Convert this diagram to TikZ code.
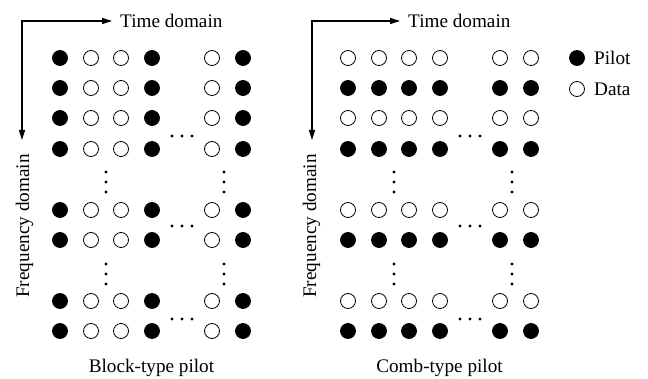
\documentclass[tikz,border=0pt]{standalone}
\usepackage{fontspec}
\setmainfont{Liberation Serif}
\usetikzlibrary{arrows.meta}
\begin{document}
\begin{tikzpicture}[x=1pt,y=-1pt,
  pilot/.style={circle,fill=black,draw=black,line width=0.8pt,minimum size=15pt,inner sep=0pt},
  datasym/.style={circle,fill=white,draw=black,line width=0.8pt,minimum size=15pt,inner sep=0pt},
  ell/.style={circle,fill=black,minimum size=3.2pt,inner sep=0pt},
  axis/.style={line width=1.1pt,{Triangle[length=10pt,width=6pt]}-{Triangle[length=10pt,width=6pt]}},
  lbl/.style={font=\fontsize{19.2}{23}\selectfont,inner sep=0pt}
]
\useasboundingbox (0,0) rectangle (648,379);

% ---- Block-type grid
\foreach \r/\y in {1/58,2/88,3/118,4/149,5/210,6/240,7/301,8/331}{
  \foreach \c/\x/\t in {1/60/pilot,2/91/datasym,3/121/datasym,4/152/pilot,5/212/datasym,6/243/pilot}{
    \node[\t] (B\r\c) at (\x,\y) {};
  }
}
% ---- Comb-type grid
\foreach \r/\y/\t in {1/58/datasym,2/88/pilot,3/118/datasym,4/149/pilot,5/210/datasym,6/240/pilot,7/301/datasym,8/331/pilot}{
  \foreach \c/\x in {1/348,2/379,3/409,4/440,5/500,6/531}{
    \node[\t] (C\r\c) at (\x,\y) {};
  }
}

% ---- horizontal ellipses
\foreach \k/\y in {1/136,2/226,3/319}{
  \foreach \j/\dx in {1/0,2/10,3/20}{
    \node[ell] (BH\k\j) at (172+\dx,\y) {};
    \node[ell] (CH\k\j) at (460+\dx,\y) {};
  }
}
% ---- vertical ellipses
\foreach \k/\y in {1/172,2/264}{
  \foreach \j/\dy in {1/0,2/10,3/20}{
    \node[ell] (BVa\k\j) at (106,\y+\dy) {};
    \node[ell] (BVb\k\j) at (224,\y+\dy) {};
    \node[ell] (CVa\k\j) at (394,\y+\dy) {};
    \node[ell] (CVb\k\j) at (512,\y+\dy) {};
  }
}

% ---- axes, left
\coordinate (Lcorner) at (22,21);
\coordinate (Lx) at (112,21);
\coordinate (Ly) at (22,140);
\draw[axis] (Ly) -- (Lcorner) -- (Lx);
\node[lbl,anchor=base west] (Ltime) at (120,27.5) {Time domain};
\node[lbl,anchor=base,rotate=90] (Lfreq) at (29,226) {Frequency domain};

% ---- axes, right
\coordinate (Rcorner) at (312,21);
\coordinate (Rx) at (400,21);
\coordinate (Ry) at (312,140);
\draw[axis] (Ry) -- (Rcorner) -- (Rx);
\node[lbl,anchor=base west] (Rtime) at (408,27.5) {Time domain};
\node[lbl,anchor=base,rotate=90] (Rfreq) at (316,226) {Frequency domain};

% ---- legend
\node[pilot] (legP) at (577,58) {};
\node[datasym] (legD) at (577,89) {};
\node[lbl,anchor=base west] (legPt) at (594,65) {Pilot};
\node[lbl,anchor=base west] (legDt) at (594,96) {Data};

% ---- captions
\node[lbl,anchor=base] (capB) at (151.5,373) {Block-type pilot};
\node[lbl,anchor=base] (capC) at (439.5,373) {Comb-type pilot};
\end{tikzpicture}
\end{document}
